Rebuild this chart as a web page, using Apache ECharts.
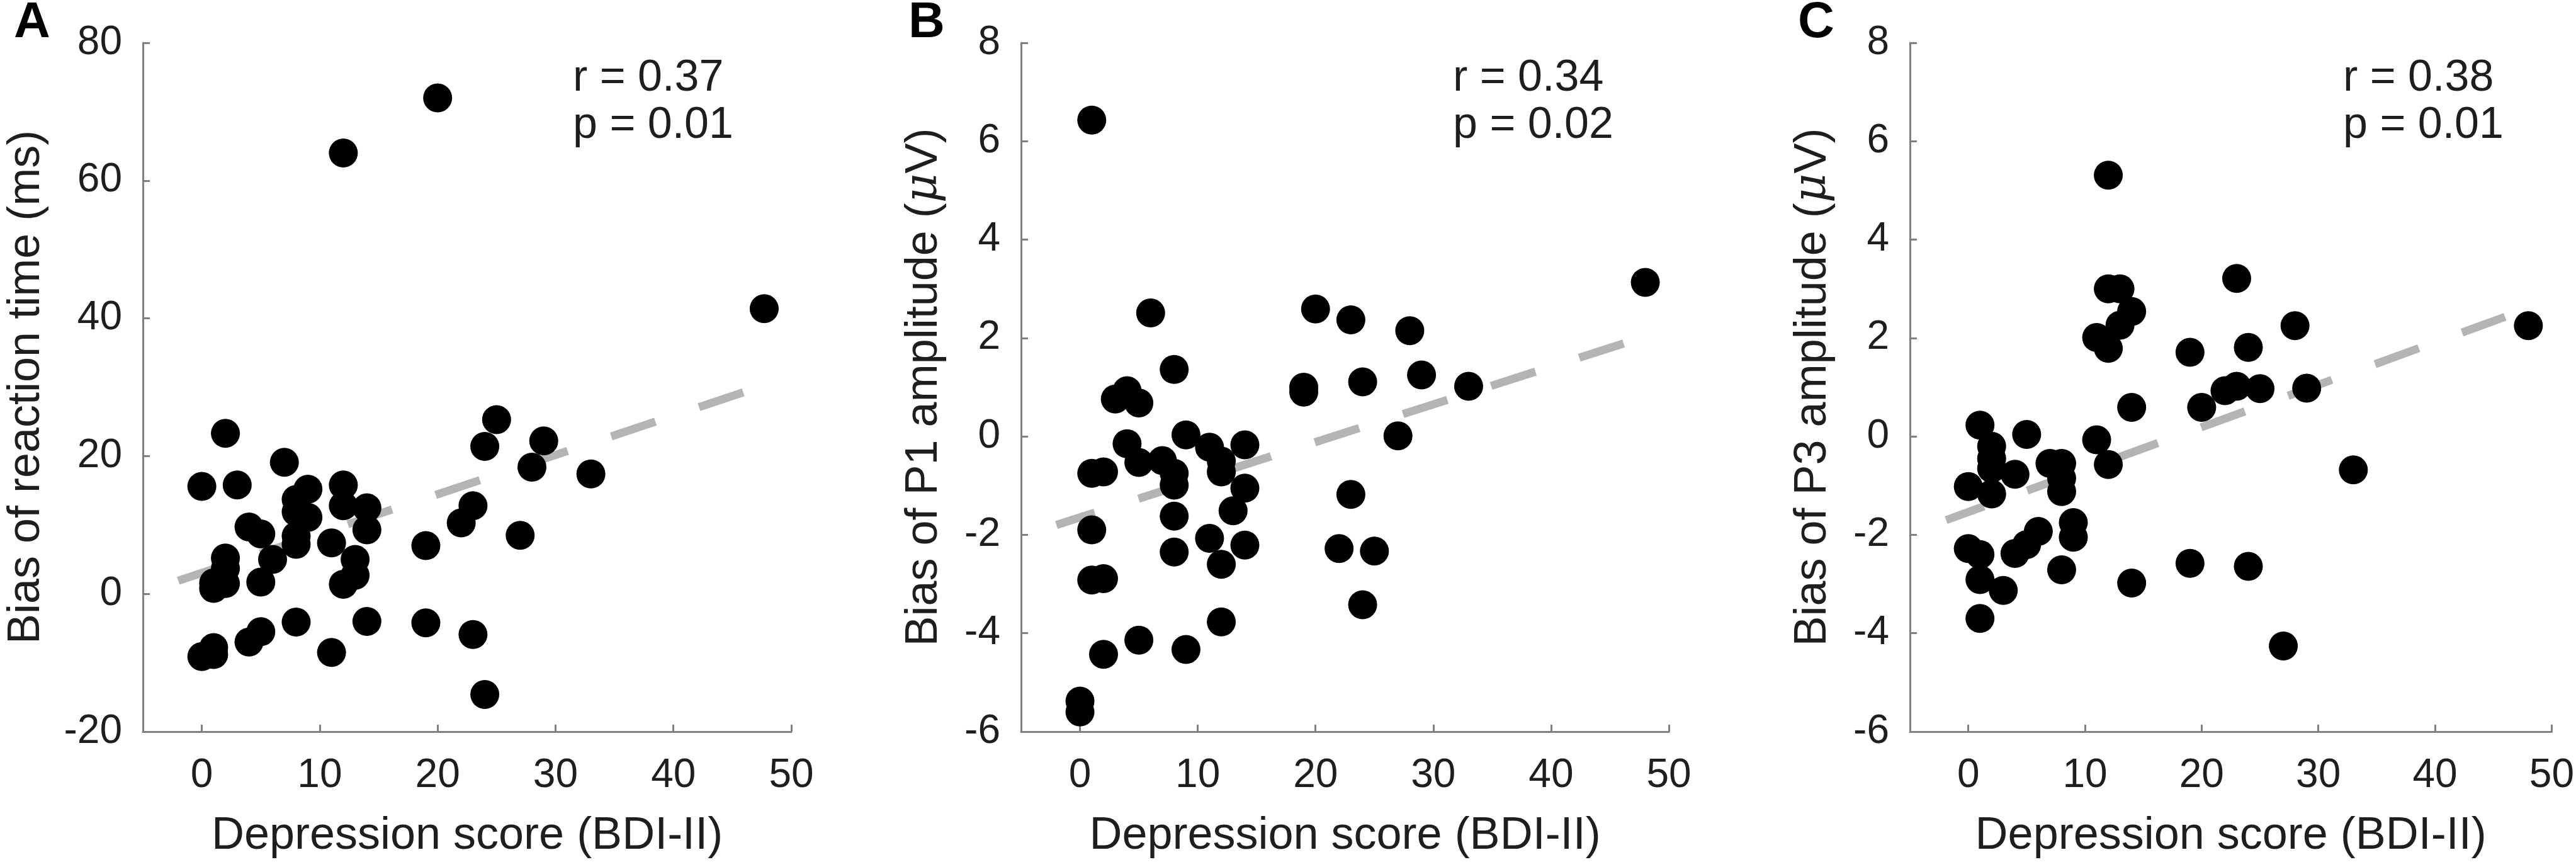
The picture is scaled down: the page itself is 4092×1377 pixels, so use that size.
<!DOCTYPE html>
<html lang="en">
<head>
<meta charset="UTF-8">
<title>Bias vs depression score</title>
<script src="https://cdn.jsdelivr.net/npm/echarts@6/dist/echarts.min.js"></script>
<style>
    html, body { margin: 0; padding: 0; background: #fff; }
    #chart { width: 4092px; height: 1377px; }
</style>
</head>
<body>
<div id="chart"></div>
<script>
// [BDI-II score, bias] pairs
var rtBias = [
    [0, 15.6], [0, -9.1], [1, 1.6], [1, 0.8], [1, -7.8], [1, -8.8], [2, 23.3], [2, 5.2], [2, 3.7], [2, 1.5],
    [3, 15.8], [4, 9.7], [4, -7.0], [5, 8.7], [5, 1.7], [5, -5.5], [6, 5.0], [7, 19.1], [8, 13.7], [8, 11.9],
    [8, 8.4], [8, 7.2], [8, -4.1], [9, 15.2], [9, 11.1], [11, 7.4], [11, -8.5], [12, 64], [12, 15.8], [12, 12.8],
    [12, 1.4], [13, 5.0], [13, 2.7], [14, 12.5], [14, 9.3], [14, -4.0], [19, 7.0], [19, -4.2], [20, 72], [22, 10.3],
    [23, 12.8], [23, -5.9], [24, 21.4], [24, -14.6], [25, 25.3], [27, 8.5], [28, 18.4], [29, 22.2], [33, 17.4], [47.7, 41.4]
];
var p1Bias = [
    [0, -5.38], [0, -5.6], [1, 6.43], [1, -0.75], [1, -1.9], [1, -2.92], [2, -0.72], [2, -2.89], [2, -4.43], [3, 0.76],
    [4, 0.93], [4, -0.15], [5, 0.68], [5, -0.53], [5, -4.14], [6, 2.51], [7, -0.49], [8, 1.36], [8, -0.75], [8, -0.99],
    [8, -1.62], [8, -2.35], [9, 0.03], [9, -4.33], [11, -0.22], [11, -2.07], [12, -0.5], [12, -0.72], [12, -2.6], [12, -3.77],
    [13, -1.51], [14, -0.17], [14, -1.05], [14, -2.21], [19, 1.0], [19, 0.9], [20, 2.59], [22, -2.28], [23, 2.37], [23, -1.18],
    [24, 1.11], [24, -3.42], [25, -2.33], [27, 0.01], [28, 2.15], [29, 1.25], [33, 1.02], [48, 3.13]
];
var p3Bias = [
    [0, -1.02], [0, -2.28], [1, 0.23], [1, -2.4], [1, -2.91], [1, -3.7], [2, -0.2], [2, -0.45], [2, -0.65], [2, -1.17],
    [3, -3.13], [4, -0.77], [4, -2.38], [5, 0.04], [5, -2.2], [6, -1.93], [7, -0.55], [8, -0.55], [8, -0.85], [8, -1.12],
    [8, -2.71], [9, -1.75], [9, -2.05], [11, 2.01], [11, -0.07], [12, 5.31], [12, 3.0], [12, 1.79], [12, -0.57], [13, 3.0],
    [13, 2.26], [14, 2.54], [14, 0.59], [14, -2.98], [19, 1.71], [19, -2.58], [20, 0.59], [22, 0.93], [23, 1.02], [23, 3.21],
    [24, 1.81], [24, -2.64], [25, 0.97], [27, -4.26], [28, 2.25], [29, 0.98], [33, -0.68], [48, 2.25]
];

// end points of the dashed regression lines
var rtFit = [[-2, 1.9], [46, 29.3]];
var p1Fit = [[-2, -1.8], [46.3, 1.9]];
var p3Fit = [[-1.9, -1.7], [46, 2.43]];

// tick labels
var xTicks = [0, 10, 20, 30, 40, 50];
var rtTicks = [-20, 0, 20, 40, 60, 80];
var ampTicks = [-6, -4, -2, 0, 2, 4, 6, 8];

var panelLetters = ['A', 'B', 'C'];
var stats = [['r = 0.37', 'p = 0.01'], ['r = 0.34', 'p = 0.02'], ['r = 0.38', 'p = 0.01']];
var xTitle = 'Depression score (BDI-II)';
var yTitles = ['Bias of reaction time (ms)', 'Bias of P1 amplitude ({mu|\u03bc}V)', 'Bias of P3 amplitude ({mu|\u03bc}V)'];

var FONT = "'Liberation Sans', Arial, sans-serif";
var TEXT = '#1e1e1e';
var AXIS = '#808080';

var panels = [
    { pts: rtBias, fit: rtFit, yTicks: rtTicks, left: 227, width: 1030, nameGap: 149, letterX: 22, statsX: 910 },
    { pts: p1Bias, fit: p1Fit, yTicks: ampTicks, left: 1622, width: 1029, nameGap: 118, letterX: 1443, statsX: 2308 },
    { pts: p3Bias, fit: p3Fit, yTicks: ampTicks, left: 3034, width: 1028, nameGap: 118, letterX: 2856, statsX: 3722 }
];
var plotTop = 68, plotHeight = 1094;

var chart = echarts.init(document.getElementById('chart'), null, { renderer: 'canvas' });

var grid = [], xAxis = [], yAxis = [], series = [], graphic = [];

panels.forEach(function (p, i) {
    grid.push({ left: p.left, top: plotTop, width: p.width, height: plotHeight });

    xAxis.push({
        gridIndex: i,
        type: 'value',
        min: -5,
        max: xTicks[xTicks.length - 1],
        minInterval: xTicks[1] - xTicks[0],
        maxInterval: xTicks[1] - xTicks[0],
        axisLine: { show: true, onZero: false, lineStyle: { color: AXIS, width: 3 } },
        axisTick: { show: true, inside: true, length: 11, lineStyle: { color: AXIS, width: 3 } },
        axisLabel: {
            showMinLabel: false,
            margin: 38,
            fontSize: 64,
            fontFamily: FONT,
            color: TEXT,
            formatter: function (v) { return xTicks.indexOf(v) >= 0 ? String(v) : ''; }
        },
        splitLine: { show: false },
        name: xTitle,
        nameLocation: 'middle',
        nameGap: 130,
        nameTextStyle: { fontSize: 72, fontFamily: FONT, color: TEXT }
    });

    yAxis.push({
        gridIndex: i,
        type: 'value',
        min: p.yTicks[0],
        max: p.yTicks[p.yTicks.length - 1],
        interval: p.yTicks[1] - p.yTicks[0],
        axisLine: { show: true, onZero: false, lineStyle: { color: AXIS, width: 3 } },
        axisTick: { show: true, inside: true, length: 11, lineStyle: { color: AXIS, width: 3 } },
        axisLabel: { margin: 33, fontSize: 64, fontFamily: FONT, color: TEXT },
        splitLine: { show: false },
        name: yTitles[i],
        nameLocation: 'middle',
        nameGap: p.nameGap,
        nameTextStyle: {
            fontSize: 72,
            fontFamily: FONT,
            color: TEXT,
            rich: {
                mu: { fontSize: 72, fontFamily: "'DejaVu Serif', serif", fontStyle: 'italic', color: TEXT }
            }
        }
    });

    // dashed regression line sits under the dots
    series.push({
        type: 'line',
        xAxisIndex: i,
        yAxisIndex: i,
        data: p.fit,
        symbol: 'none',
        silent: true,
        z: 1,
        lineStyle: { color: '#b4b4b4', width: 13, type: [74, 73], dashOffset: 10, cap: 'butt' }
    });
    series.push({
        type: 'scatter',
        xAxisIndex: i,
        yAxisIndex: i,
        data: p.pts,
        symbolSize: 46,
        z: 2,
        itemStyle: { color: '#000', opacity: 1 }
    });

    graphic.push({
        type: 'text', left: p.letterX, top: -3,
        style: { text: panelLetters[i], font: 'bold 80px ' + FONT, fill: '#000' }
    });
    graphic.push({
        type: 'text', left: p.statsX, top: 90,
        style: { text: stats[i][0], font: '70px ' + FONT, fill: TEXT }
    });
    graphic.push({
        type: 'text', left: p.statsX, top: 165,
        style: { text: stats[i][1], font: '70px ' + FONT, fill: TEXT }
    });
});

chart.setOption({
    animation: false,
    backgroundColor: '#fff',
    grid: grid,
    xAxis: xAxis,
    yAxis: yAxis,
    series: series,
    graphic: graphic
});
</script>
</body>
</html>
